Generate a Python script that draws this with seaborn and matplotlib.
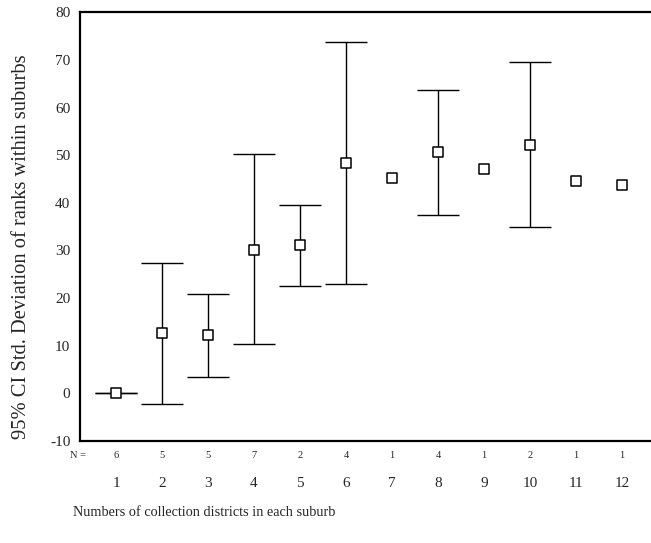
import numpy as np
import pandas as pd
import matplotlib
matplotlib.use("Agg")
import matplotlib.pyplot as plt
import matplotlib.transforms as mtransforms
import seaborn as sns

# Data
districts = [1, 2, 3, 4, 5, 6, 7, 8, 9, 10, 11, 12]
n_counts = [6, 5, 5, 7, 2, 4, 1, 4, 1, 2, 1, 1]
sd_mean = [0.0, 12.7, 12.3, 30.1, 31.1, 48.4, 45.2, 50.6, 47.1, 52.2, 44.6, 43.7]
ci_upper = [0.0, 27.3, 20.8, 50.3, 39.6, 73.8, np.nan, 63.7, np.nan, 69.6, np.nan, np.nan]
ci_lower = [0.0, -2.2, 3.5, 10.4, 22.6, 23.0, np.nan, 37.4, np.nan, 34.9, np.nan, np.nan]
y_ticks = [-10, 0, 10, 20, 30, 40, 50, 60, 70, 80]

df = pd.DataFrame({"d": districts, "n": n_counts, "m": sd_mean,
                   "lo": ci_lower, "hi": ci_upper})

sns.set_style("white")
plt.rcParams["font.family"] = ["Liberation Serif", "DejaVu Serif"]

fig = plt.figure(figsize=(6.51, 5.43), dpi=100)
ax = fig.add_axes([80 / 651, 1 - 441 / 543, 1 - 80 / 651, (441 - 12.3) / 543])

# error bars (only where CI exists)
eb = df.dropna(subset=["lo", "hi"])
ax.errorbar(eb["d"], eb["m"],
            yerr=[eb["m"] - eb["lo"], eb["hi"] - eb["m"]],
            fmt="none", ecolor="black", elinewidth=1.0, capsize=15,
            capthick=1.0, zorder=2)

sns.scatterplot(data=df, x="d", y="m", marker="s", s=55,
                facecolor="white", edgecolor="black", linewidth=1.1,
                ax=ax, zorder=3, legend=False)

ax.set_xlim(0.217, 12.63)
ax.set_ylim(-10, 80)
ax.set_yticks(y_ticks)
ax.set_yticklabels([str(v) for v in y_ticks], fontsize=11)
ax.set_xticks(districts)
ax.set_xticklabels([str(v) for v in districts], fontsize=11)
ax.tick_params(axis="both", direction="out", length=3, width=3, color="black")
ax.tick_params(axis="x", pad=23)
ax.tick_params(axis="y", pad=4)
ax.set_xlabel("")
ax.set_ylabel("")

for side in ["left", "bottom", "top"]:
    ax.spines[side].set_visible(True)
    ax.spines[side].set_color("black")
    ax.spines[side].set_linewidth(1.6)
ax.spines["right"].set_visible(False)

# N labels
trans = mtransforms.blended_transform_factory(ax.transData, ax.transAxes)
ny = (441 - 455) / (441 - 12.3)
ax.text(0.0, ny, "N =", transform=trans, ha="left", va="center", fontsize=7.5,
        clip_on=False)
for d, n in zip(districts, n_counts):
    ax.text(d, ny, str(n), transform=trans, ha="center", va="center",
            fontsize=7.5, clip_on=False)

fig.text(22 / 651, 1 - 247 / 543, "95% CI Std. Deviation of ranks within suburbs",
         rotation=90, ha="center", va="center", fontsize=14.8)
fig.text(73 / 651, 1 - 512 / 543, "Numbers of collection districts in each suburb",
         ha="left", va="center", fontsize=10.3)

fig.savefig("out.png", dpi=100)
